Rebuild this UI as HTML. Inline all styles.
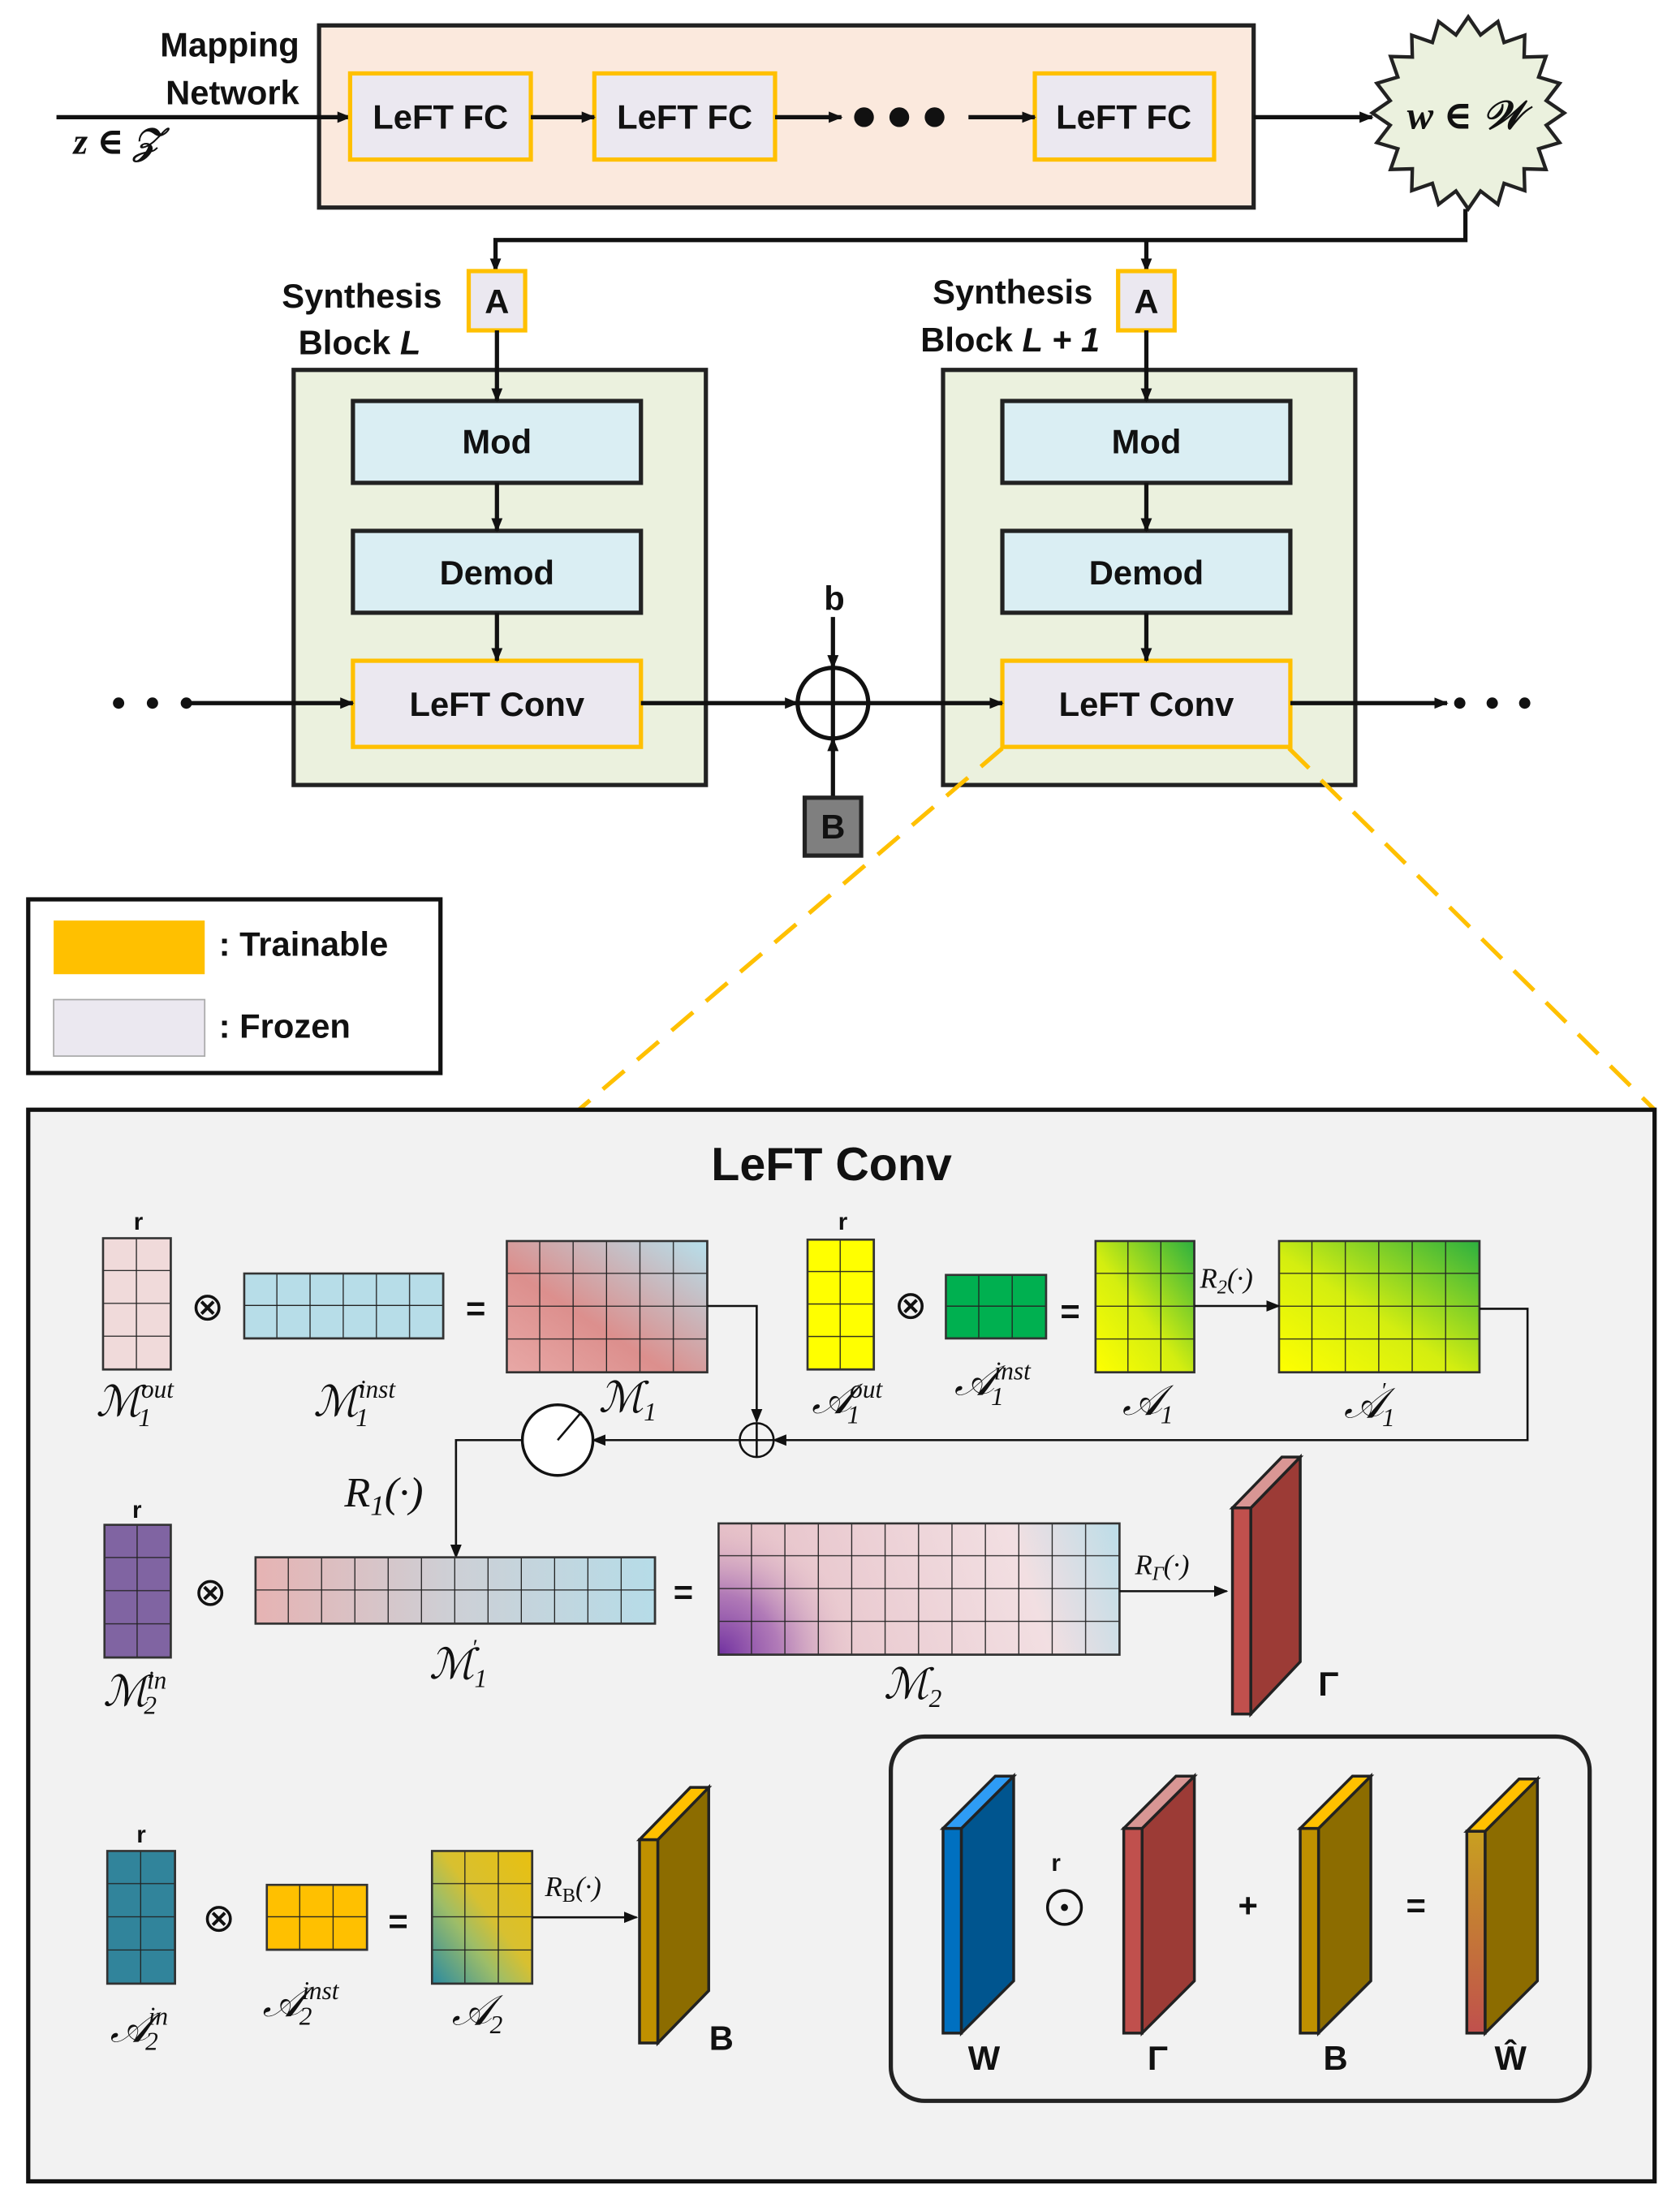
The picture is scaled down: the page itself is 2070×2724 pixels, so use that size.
<!DOCTYPE html>
<html><head><meta charset="utf-8"><style>html,body{margin:0;padding:0;background:#fff}svg{display:block}
.b{font-family:"Liberation Sans",sans-serif;font-weight:bold;fill:#111}
.m{font-family:"Liberation Serif","DejaVu Serif",serif;font-style:italic;fill:#111}
</style></head><body>
<svg width="2070" height="2724" viewBox="0 0 1190 1566" preserveAspectRatio="none" xmlns="http://www.w3.org/2000/svg">
<defs>
<marker id="ar" markerWidth="10" markerHeight="10" refX="9" refY="5" orient="auto" markerUnits="userSpaceOnUse"><path d="M0,1 L10,5 L0,9 Z" fill="#111"/></marker>
<linearGradient id="gM1" x1="0" y1="1" x2="1" y2="0"><stop offset="0" stop-color="#e8a8a6"/><stop offset=".4" stop-color="#dc8f8d"/><stop offset="1" stop-color="#b6e0ec"/></linearGradient>
<linearGradient id="gM1p" x1="0" y1="0" x2="1" y2="0"><stop offset="0" stop-color="#e6b3b3"/><stop offset=".5" stop-color="#cdd0d6"/><stop offset="1" stop-color="#b6dce8"/></linearGradient>
<linearGradient id="gM2" gradientUnits="userSpaceOnUse" x1="509" y1="1172" x2="793" y2="1079"><stop offset="0" stop-color="#e4bcc4"/><stop offset=".75" stop-color="#f2dfe2"/><stop offset="1" stop-color="#bcdde8"/></linearGradient>
<radialGradient id="gM2p" gradientUnits="userSpaceOnUse" cx="509" cy="1172" r="95"><stop offset="0" stop-color="#7030a0" stop-opacity="1"/><stop offset=".45" stop-color="#9a5cb0" stop-opacity=".7"/><stop offset="1" stop-color="#e4bcc4" stop-opacity="0"/></radialGradient>
<linearGradient id="gA1" x1="0" y1="1" x2="1" y2="0"><stop offset="0" stop-color="#ffff00"/><stop offset=".45" stop-color="#d4ee10"/><stop offset="1" stop-color="#2cb040"/></linearGradient>
<linearGradient id="gA2" x1="0" y1="1" x2="1" y2="0"><stop offset="0" stop-color="#2a8aa0"/><stop offset=".35" stop-color="#9dbd68"/><stop offset=".55" stop-color="#d8c030"/><stop offset="1" stop-color="#e8c010"/></linearGradient>
<linearGradient id="gW" x1="0" y1="0" x2="0" y2="1"><stop offset="0" stop-color="#c8a020"/><stop offset="1" stop-color="#c0504d"/></linearGradient>
<pattern id="p1" patternUnits="userSpaceOnUse" x="73" y="877" width="24" height="23.25"><path d="M24 0V23.25H0" fill="none" stroke="#222" stroke-width="1.5"/></pattern>
<pattern id="p2" patternUnits="userSpaceOnUse" x="173" y="902" width="23.5" height="23"><path d="M23.5 0V23H0" fill="none" stroke="#222" stroke-width="1.5"/></pattern>
<pattern id="p3" patternUnits="userSpaceOnUse" x="359" y="879" width="23.67" height="23.25"><path d="M23.67 0V23.25H0" fill="none" stroke="#222" stroke-width="1.5"/></pattern>
<pattern id="p4" patternUnits="userSpaceOnUse" x="572" y="878" width="23.5" height="23"><path d="M23.5 0V23H0" fill="none" stroke="#222" stroke-width="1.5"/></pattern>
<pattern id="p5" patternUnits="userSpaceOnUse" x="670" y="903" width="23.67" height="22.5"><path d="M23.67 0V22.5H0" fill="none" stroke="#222" stroke-width="1.5"/></pattern>
<pattern id="p6" patternUnits="userSpaceOnUse" x="776" y="879" width="23.33" height="23.25"><path d="M23.33 0V23.25H0" fill="none" stroke="#222" stroke-width="1.5"/></pattern>
<pattern id="p7" patternUnits="userSpaceOnUse" x="906" y="879" width="23.67" height="23.25"><path d="M23.67 0V23.25H0" fill="none" stroke="#222" stroke-width="1.5"/></pattern>
<pattern id="p8" patternUnits="userSpaceOnUse" x="74" y="1080" width="23.5" height="23.5"><path d="M23.5 0V23.5H0" fill="none" stroke="#222" stroke-width="1.5"/></pattern>
<pattern id="p9" patternUnits="userSpaceOnUse" x="181" y="1103" width="23.58" height="23.5"><path d="M23.58 0V23.5H0" fill="none" stroke="#222" stroke-width="1.5"/></pattern>
<pattern id="p10" patternUnits="userSpaceOnUse" x="509" y="1079" width="23.67" height="23.25"><path d="M23.67 0V23.25H0" fill="none" stroke="#222" stroke-width="1.5"/></pattern>
<pattern id="p11" patternUnits="userSpaceOnUse" x="76" y="1311" width="24" height="23.5"><path d="M24 0V23.5H0" fill="none" stroke="#222" stroke-width="1.5"/></pattern>
<pattern id="p12" patternUnits="userSpaceOnUse" x="189" y="1335" width="23.67" height="23"><path d="M23.67 0V23H0" fill="none" stroke="#222" stroke-width="1.5"/></pattern>
<pattern id="p13" patternUnits="userSpaceOnUse" x="306" y="1311" width="23.67" height="23.5"><path d="M23.67 0V23.5H0" fill="none" stroke="#222" stroke-width="1.5"/></pattern>
</defs>

<rect x="226" y="18" width="662" height="129" fill="#fbe9dd" stroke="#222" stroke-width="3"/>
<text class="b" x="212" y="40" font-size="24" text-anchor="end">Mapping</text>
<text class="b" x="212" y="74" font-size="24" text-anchor="end">Network</text>
<text class="m" x="52" y="109" font-size="26" font-weight="bold">z ∈ 𝒵</text>
<line x1="40" y1="83" x2="248" y2="83" stroke="#111" stroke-width="3" marker-end="url(#ar)"/>
<g stroke="#ffc000" stroke-width="3" fill="#ebe8f0">
<rect x="248" y="52" width="128" height="61"/><rect x="421" y="52" width="128" height="61"/><rect x="733" y="52" width="127" height="61"/>
</g>
<g class="b" font-size="24" text-anchor="middle"><text x="312" y="91">LeFT FC</text><text x="485" y="91">LeFT FC</text><text x="796" y="91">LeFT FC</text></g>
<g stroke="#111" stroke-width="3" marker-end="url(#ar)">
<line x1="376" y1="83" x2="421" y2="83"/><line x1="549" y1="83" x2="596" y2="83"/><line x1="686" y1="83" x2="733" y2="83"/><line x1="888" y1="83" x2="972" y2="83"/>
</g>
<circle cx="612" cy="83" r="7" fill="#111"/><circle cx="637" cy="83" r="7" fill="#111"/><circle cx="662" cy="83" r="7" fill="#111"/>
<polygon fill="#ebf1de" stroke="#222" stroke-width="2.5" points="1108,80 1095.3,88.7 1104.7,101 1089.9,105.4 1095,120 1079.6,119.6 1080,135 1065.4,129.9 1061,144.7 1048.7,135.3 1040,148 1031.3,135.3 1019,144.7 1014.6,129.9 1000,135 1000.4,119.6 985,120 990.1,105.4 975.3,101 984.7,88.7 972,80 984.7,71.3 975.3,59 990.1,54.6 985,40 1000.4,40.4 1000,25 1014.6,30.1 1019,15.3 1031.3,24.7 1040,12 1048.7,24.7 1061,15.3 1065.4,30.1 1080,25 1079.6,40.4 1095,40 1089.9,54.6 1104.7,59 1095.3,71.3"/>
<text class="m" x="1038" y="91" font-size="28" font-weight="bold" text-anchor="middle">w ∈ 𝒲</text>
<polyline points="1038,148 1038,170 351,170 351,192" fill="none" stroke="#111" stroke-width="3" marker-end="url(#ar)"/>
<line x1="812" y1="170" x2="812" y2="192" stroke="#111" stroke-width="3" marker-end="url(#ar)"/>

<text class="b" x="313" y="218" font-size="24" text-anchor="end">Synthesis</text>
<text class="b" x="298" y="251" font-size="24" text-anchor="end">Block <tspan font-style="italic">L</tspan></text>
<text class="b" x="774" y="215" font-size="24" text-anchor="end">Synthesis</text>
<text class="b" x="779" y="249" font-size="24" text-anchor="end">Block <tspan font-style="italic">L + 1</tspan></text>
<rect x="208" y="262" width="292" height="294" fill="#ebf1de" stroke="#222" stroke-width="3"/>
<rect x="668" y="262" width="292" height="294" fill="#ebf1de" stroke="#222" stroke-width="3"/>
<g stroke="#ffc000" stroke-width="3" fill="#ebe8f0">
<rect x="332" y="192" width="40" height="42"/><rect x="792" y="192" width="40" height="42"/>
<rect x="250" y="468" width="204" height="61"/><rect x="710" y="468" width="204" height="61"/>
</g>
<g stroke="#222" stroke-width="3" fill="#daeef3">
<rect x="250" y="284" width="204" height="58"/><rect x="250" y="376" width="204" height="58"/>
<rect x="710" y="284" width="204" height="58"/><rect x="710" y="376" width="204" height="58"/>
</g>
<g class="b" font-size="24" text-anchor="middle">
<text x="352" y="222">A</text><text x="812" y="222">A</text>
<text x="352" y="321">Mod</text><text x="352" y="414">Demod</text><text x="352" y="507">LeFT Conv</text>
<text x="812" y="321">Mod</text><text x="812" y="414">Demod</text><text x="812" y="507">LeFT Conv</text>
</g>
<g stroke="#111" stroke-width="3" marker-end="url(#ar)">
<line x1="352" y1="234" x2="352" y2="284"/><line x1="352" y1="342" x2="352" y2="376"/><line x1="352" y1="434" x2="352" y2="468"/>
<line x1="812" y1="234" x2="812" y2="284"/><line x1="812" y1="342" x2="812" y2="376"/><line x1="812" y1="434" x2="812" y2="468"/>
<line x1="132" y1="498" x2="250" y2="498"/><line x1="454" y1="498" x2="565" y2="498"/>
<line x1="615" y1="498" x2="710" y2="498"/><line x1="914" y1="498" x2="1025" y2="498"/>
<line x1="590" y1="437" x2="590" y2="473"/><line x1="590" y1="565" x2="590" y2="523"/>
</g>
<circle cx="84" cy="498" r="4" fill="#111"/><circle cx="108" cy="498" r="4" fill="#111"/><circle cx="132" cy="498" r="4" fill="#111"/>
<circle cx="1034" cy="498" r="4" fill="#111"/><circle cx="1057" cy="498" r="4" fill="#111"/><circle cx="1080" cy="498" r="4" fill="#111"/>
<circle cx="590" cy="498" r="25" fill="none" stroke="#111" stroke-width="3"/>
<line x1="590" y1="473" x2="590" y2="523" stroke="#111" stroke-width="3"/><line x1="565" y1="498" x2="615" y2="498" stroke="#111" stroke-width="3"/>
<text class="b" x="591" y="432" font-size="24" text-anchor="middle">b</text>
<rect x="570" y="565" width="40" height="41" fill="#7f7f7f" stroke="#222" stroke-width="3"/>
<text class="b" x="590" y="594" font-size="24" text-anchor="middle">B</text>
<g stroke="#ffc000" stroke-width="3" stroke-dasharray="20,12"><line x1="710" y1="530" x2="410" y2="786"/><line x1="913" y1="530" x2="1172" y2="786"/></g>

<rect x="20" y="637" width="292" height="123" fill="#fff" stroke="#111" stroke-width="3"/>
<rect x="38" y="652" width="107" height="38" fill="#ffc000"/>
<rect x="38" y="708" width="107" height="40" fill="#ebe8f0" stroke="#aaa" stroke-width="1"/>
<text class="b" x="155" y="677" font-size="24">:  Trainable</text>
<text class="b" x="155" y="735" font-size="24">:  Frozen</text>

<rect x="20" y="786" width="1152" height="759" fill="#f2f2f2" stroke="#111" stroke-width="3"/>
<text class="b" x="589" y="836" font-size="33" text-anchor="middle">LeFT Conv</text>

<rect x="73" y="877" width="48" height="93" fill="#f0dada"/><rect x="73" y="877" width="48" height="93" fill="url(#p1)" stroke="#333" stroke-width="1.5"/>
<rect x="173" y="902" width="141" height="46" fill="#b7dde8"/><rect x="173" y="902" width="141" height="46" fill="url(#p2)" stroke="#333" stroke-width="1.5"/>
<rect x="359" y="879" width="142" height="93" fill="url(#gM1)"/><rect x="359" y="879" width="142" height="93" fill="url(#p3)" stroke="#333" stroke-width="1.5"/>
<rect x="572" y="878" width="47" height="92" fill="#ffff00"/><rect x="572" y="878" width="47" height="92" fill="url(#p4)" stroke="#333" stroke-width="1.5"/>
<rect x="670" y="903" width="71" height="45" fill="#00b050"/><rect x="670" y="903" width="71" height="45" fill="url(#p5)" stroke="#333" stroke-width="1.5"/>
<rect x="776" y="879" width="70" height="93" fill="url(#gA1)"/><rect x="776" y="879" width="70" height="93" fill="url(#p6)" stroke="#333" stroke-width="1.5"/>
<rect x="906" y="879" width="142" height="93" fill="url(#gA1)"/><rect x="906" y="879" width="142" height="93" fill="url(#p7)" stroke="#333" stroke-width="1.5"/>
<g class="b" font-size="17" text-anchor="middle"><text x="98" y="871">r</text><text x="597" y="871">r</text><text x="97" y="1075">r</text><text x="100" y="1305">r</text><text x="748" y="1325">r</text></g>
<g font-family="DejaVu Sans,sans-serif" font-size="28" text-anchor="middle" fill="#111">
<text x="147" y="935">⊗</text><text x="645" y="934">⊗</text><text x="149" y="1137">⊗</text><text x="155" y="1368">⊗</text>
</g>
<g class="b" font-size="24" text-anchor="middle"><text x="337" y="935">=</text><text x="758" y="937">=</text><text x="484" y="1136">=</text><text x="282" y="1369">=</text><text x="884" y="1358">+</text><text x="1003" y="1358">=</text></g>
<polyline points="501,925 536,925 536,1007" fill="none" stroke="#111" stroke-width="1.5" marker-end="url(#ar)"/>
<line x1="846" y1="925" x2="906" y2="925" stroke="#111" stroke-width="1.5" marker-end="url(#ar)"/>
<polyline points="1048,927 1082,927 1082,1020 548,1020" fill="none" stroke="#111" stroke-width="1.5" marker-end="url(#ar)"/>
<line x1="524" y1="1020" x2="420" y2="1020" stroke="#111" stroke-width="1.5" marker-end="url(#ar)"/>
<circle cx="536" cy="1020" r="12" fill="none" stroke="#111" stroke-width="1.5"/>
<line x1="536" y1="1008" x2="536" y2="1032" stroke="#111" stroke-width="1.5"/><line x1="524" y1="1020" x2="548" y2="1020" stroke="#111" stroke-width="1.5"/>
<circle cx="395" cy="1020" r="25" fill="#fff" stroke="#111" stroke-width="2"/>
<line x1="395" y1="1020" x2="412" y2="1000" stroke="#111" stroke-width="1.5"/>
<polyline points="370,1020 323,1020 323,1103" fill="none" stroke="#111" stroke-width="1.5" marker-end="url(#ar)"/>
<text class="m" x="244" y="1067" font-size="30">R<tspan font-size="20" dy="6">1</tspan><tspan dy="-6">(·)</tspan></text>
<text class="m" x="850" y="912" font-size="20">R<tspan font-size="14" dy="4">2</tspan><tspan dy="-4">(·)</tspan></text>
<g class="m" font-size="30">
<text x="68" y="1003">ℳ</text><text x="100" y="990" font-size="18">out</text><text x="98" y="1010" font-size="18">1</text>
<text x="222" y="1003">ℳ</text><text x="254" y="990" font-size="18">inst</text><text x="252" y="1010" font-size="18">1</text>
<text x="424" y="1000">ℳ</text><text x="456" y="1006" font-size="18">1</text>
<text x="575" y="1001">𝒜</text><text x="602" y="990" font-size="18">out</text><text x="600" y="1008" font-size="18">1</text>
<text x="676" y="988">𝒜</text><text x="704" y="977" font-size="18">inst</text><text x="702" y="995" font-size="18">1</text>
<text x="795" y="1002">𝒜</text><text x="822" y="1008" font-size="18">1</text>
<text x="952" y="1004">𝒜</text><text x="978" y="990" font-size="16">′</text><text x="979" y="1010" font-size="18">1</text>
<text x="73" y="1208">ℳ</text><text x="104" y="1196" font-size="18">in</text><text x="102" y="1214" font-size="18">2</text>
<text x="304" y="1189">ℳ</text><text x="334" y="1172" font-size="16">′</text><text x="336" y="1195" font-size="18">1</text>
<text x="626" y="1203">ℳ</text><text x="658" y="1209" font-size="18">2</text>
<text x="78" y="1446">𝒜</text><text x="105" y="1434" font-size="18">in</text><text x="103" y="1452" font-size="18">2</text>
<text x="186" y="1428">𝒜</text><text x="214" y="1416" font-size="18">inst</text><text x="212" y="1434" font-size="18">2</text>
<text x="320" y="1434">𝒜</text><text x="347" y="1440" font-size="18">2</text>
</g>

<rect x="74" y="1080" width="47" height="94" fill="#8064a2"/><rect x="74" y="1080" width="47" height="94" fill="url(#p8)" stroke="#333" stroke-width="1.5"/>
<rect x="181" y="1103" width="283" height="47" fill="url(#gM1p)"/><rect x="181" y="1103" width="283" height="47" fill="url(#p9)" stroke="#333" stroke-width="1.5"/>
<rect x="509" y="1079" width="284" height="93" fill="url(#gM2)"/><rect x="509" y="1079" width="284" height="93" fill="url(#gM2p)"/><rect x="509" y="1079" width="284" height="93" fill="url(#p10)" stroke="#333" stroke-width="1.5"/>
<line x1="793" y1="1127" x2="869" y2="1127" stroke="#111" stroke-width="1.5" marker-end="url(#ar)"/>
<text class="m" x="804" y="1115" font-size="20">R<tspan font-size="14" dy="4">Γ</tspan><tspan dy="-4">(·)</tspan></text>
<g stroke="#222" stroke-width="2">
<rect x="873" y="1068" width="13" height="146" fill="#c0504d"/>
<polygon points="886,1068 921,1032 921,1177 886,1214" fill="#9c3b36"/>
<polygon points="873,1068 908,1032 921,1032 886,1068" fill="#d99694"/>
</g>
<text class="b" x="941" y="1201" font-size="24" text-anchor="middle">Γ</text>

<rect x="76" y="1311" width="48" height="94" fill="#31849b"/><rect x="76" y="1311" width="48" height="94" fill="url(#p11)" stroke="#333" stroke-width="1.5"/>
<rect x="189" y="1335" width="71" height="46" fill="#ffc000"/><rect x="189" y="1335" width="71" height="46" fill="url(#p12)" stroke="#333" stroke-width="1.5"/>
<rect x="306" y="1311" width="71" height="94" fill="url(#gA2)"/><rect x="306" y="1311" width="71" height="94" fill="url(#p13)" stroke="#333" stroke-width="1.5"/>
<line x1="377" y1="1358" x2="451" y2="1358" stroke="#111" stroke-width="1.5" marker-end="url(#ar)"/>
<text class="m" x="386" y="1343" font-size="20">R<tspan font-size="14" dy="4" font-style="normal">B</tspan><tspan dy="-4">(·)</tspan></text>
<g stroke="#222" stroke-width="2">
<rect x="453" y="1303" width="13" height="144" fill="#bf9000"/>
<polygon points="466,1303 502,1266 502,1410 466,1447" fill="#8c6c00"/>
<polygon points="453,1303 489,1266 502,1266 466,1303" fill="#ffc000"/>
</g>
<text class="b" x="511" y="1452" font-size="24" text-anchor="middle">B</text>

<rect x="631" y="1230" width="495" height="258" rx="24" fill="none" stroke="#222" stroke-width="3"/>
<g stroke="#222" stroke-width="2">
<rect x="668" y="1295" width="13" height="145" fill="#0070c0"/><polygon points="681,1295 718,1258 718,1403 681,1440" fill="#00558f"/><polygon points="668,1295 705,1258 718,1258 681,1295" fill="#2e9cf5"/>
<rect x="796" y="1295" width="13" height="145" fill="#c0504d"/><polygon points="809,1295 846,1258 846,1403 809,1440" fill="#9c3b36"/><polygon points="796,1295 833,1258 846,1258 809,1295" fill="#d99694"/>
<rect x="921" y="1295" width="13" height="145" fill="#bf9000"/><polygon points="934,1295 971,1258 971,1403 934,1440" fill="#8c6c00"/><polygon points="921,1295 958,1258 971,1258 934,1295" fill="#ffc000"/>
<rect x="1039" y="1297" width="13" height="143" fill="url(#gW)"/><polygon points="1052,1297 1089,1260 1089,1403 1052,1440" fill="#8c6c00"/><polygon points="1039,1297 1076,1260 1089,1260 1052,1297" fill="#ffc000"/>
</g>
<circle cx="754" cy="1351" r="12" fill="none" stroke="#111" stroke-width="2"/><circle cx="754" cy="1351" r="2.5" fill="#111"/>
<g class="b" font-size="24" text-anchor="middle"><text x="697" y="1466">W</text><text x="820" y="1466">Γ</text><text x="946" y="1466">B</text><text x="1070" y="1466">Ŵ</text></g>
</svg>
</body></html>
